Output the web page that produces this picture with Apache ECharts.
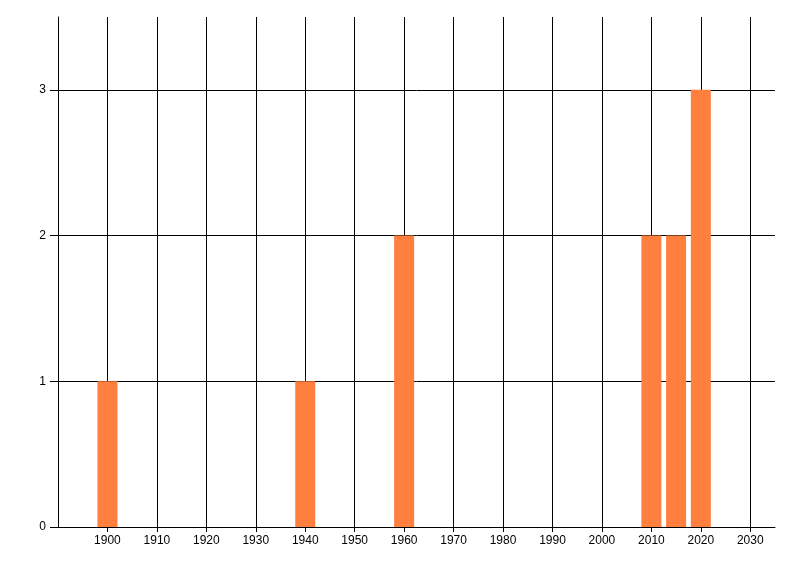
<!DOCTYPE html>
<html>
<head>
<meta charset="utf-8">
<script src="https://cdn.jsdelivr.net/npm/echarts@6/dist/echarts.min.js"></script>
<style>
  html, body { margin: 0; padding: 0; background: #fff; }
  #chart { width: 800px; height: 576px; }
</style>
</head>
<body>
<div id="chart"></div>
<script>
// data
const years = [1900, 1940, 1960, 2010, 2015, 2020]
const counts = [1, 1, 2, 2, 2, 3]
const xTicks = [1900, 1910, 1920, 1930, 1940, 1950, 1960, 1970, 1980, 1990, 2000, 2010, 2020, 2030]
const yTicks = [0, 1, 2, 3]

const chart = echarts.init(document.getElementById('chart'))

const labelStyle = {
    color: '#000',
    fontFamily: 'Liberation Sans',
    fontSize: 12,
    formatter: v => String(v)
}

chart.setOption({
    animation: false,
    grid: {
        left: 58,
        right: 25,
        top: 17,
        bottom: 49
    },
    xAxis: {
        type: 'value',
        min: 1890,
        max: 2035,
        interval: 10,
        axisLine: { lineStyle: { color: '#000', width: 1 } },
        axisTick: {
            show: true,
            length: 5,
            customValues: xTicks,
            lineStyle: { color: '#000' }
        },
        axisLabel: Object.assign({ margin: 8, customValues: xTicks }, labelStyle),
        splitLine: { show: true, lineStyle: { color: '#000', width: 1 } }
    },
    yAxis: {
        type: 'value',
        min: 0,
        max: 3.5,
        interval: 1,
        axisLine: { show: true, lineStyle: { color: '#000', width: 1 } },
        axisTick: {
            show: true,
            length: 8,
            customValues: yTicks,
            lineStyle: { color: '#000' }
        },
        axisLabel: Object.assign({ margin: 12, customValues: yTicks }, labelStyle),
        splitLine: { show: true, lineStyle: { color: '#000', width: 1 } }
    },
    series: [
        {
            type: 'bar',
            barWidth: 20,
            itemStyle: { color: '#ff7f3f' },
            data: years.map((y, i) => [y, counts[i]])
        }
    ]
})
</script>
</body>
</html>
